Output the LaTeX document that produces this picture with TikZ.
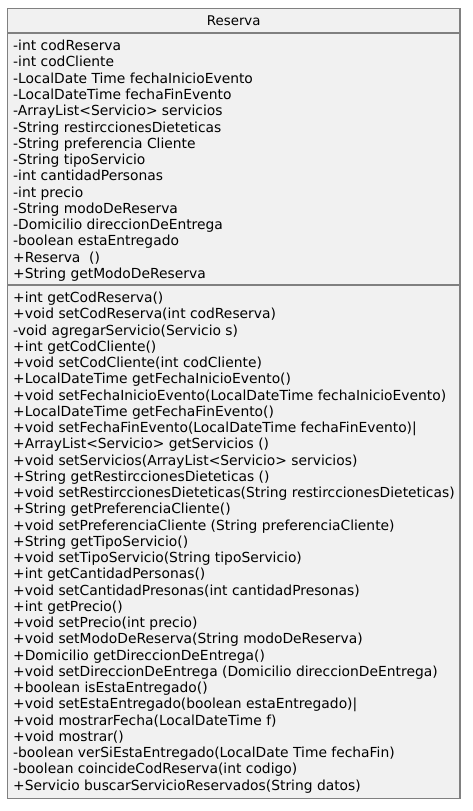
\documentclass[tikz,border=0pt]{standalone}
\usepackage{fontspec}
\setmainfont{DejaVu Sans}
\definecolor{boxfill}{HTML}{F1F1F1}
\definecolor{boxline}{HTML}{808080}
\begin{document}
\begin{tikzpicture}[x=1bp,y=-1bp,
  row/.style={anchor=base west, inner sep=0pt, font=\fontsize{13.9}{16}\selectfont},
  title/.style={anchor=base, inner sep=0pt, font=\fontsize{13.4}{16}\selectfont},
  box/.style={draw=boxline, fill=boxfill, line width=1.1bp},
  sep/.style={draw=boxline, line width=1.1bp}]
\useasboundingbox (0,0) rectangle (473,811);
\fill[white] (0,0) rectangle (473,811);
\draw[box] (7.5,8.5) rectangle (460,798.5);
\draw[sep] (7.5,33) -- (460,33);
\draw[sep] (7.5,285) -- (460,285);
\node[title] (cls) at (233.75,26) {Reserva};
\foreach \t [count=\i from 0] in {
  {-int codReserva},
  {-int codCliente},
  {-LocalDate Time fechaInicioEvento},
  {-LocalDateTime fechaFinEvento},
  {-ArrayList<Servicio> servicios},
  {-String restirccionesDieteticas},
  {-String preferencia Cliente},
  {-String tipoServicio},
  {-int cantidadPersonas},
  {-int precio},
  {-String modoDeReserva},
  {-Domicilio direccionDeEntrega},
  {-boolean estaEntregado},
  {+Reserva~~()},
  {+String getModoDeReserva}}
  \node[row] (a\i) at (13,{50.7+\i*16.27}) {\t};
\foreach \t [count=\i from 0] in {
  {+int getCodReserva()},
  {+void setCodReserva(int codReserva)},
  {-void agregarServicio(Servicio s)},
  {+int getCodCliente()},
  {+void setCodCliente(int codCliente)},
  {+LocalDateTime getFechaInicioEvento()},
  {+void setFechaInicioEvento(LocalDateTime fechaInicioEvento)},
  {+LocalDateTime getFechaFinEvento()},
  {+void setFechaFinEvento(LocalDateTime fechaFinEvento)|},
  {+ArrayList<Servicio> getServicios ()},
  {+void setServicios(ArrayList<Servicio> servicios)},
  {+String getRestirccionesDieteticas ()},
  {+void setRestirccionesDieteticas(String restirccionesDieteticas)},
  {+String getPreferenciaCliente()},
  {+void setPreferenciaCliente (String preferenciaCliente)},
  {+String getTipoServicio()},
  {+void setTipoServicio(String tipoServicio)},
  {+int getCantidadPersonas()},
  {+void setCantidadPresonas(int cantidadPresonas)},
  {+int getPrecio()},
  {+void setPrecio(int precio)},
  {+void setModoDeReserva(String modoDeReserva)},
  {+Domicilio getDireccionDeEntrega()},
  {+void setDireccionDeEntrega (Domicilio direccionDeEntrega)},
  {+boolean isEstaEntregado()},
  {+void setEstaEntregado(boolean estaEntregado)|},
  {+void mostrarFecha(LocalDateTime f)},
  {+void mostrar()},
  {-boolean verSiEstaEntregado(LocalDate Time fechaFin)},
  {-boolean coincideCodReserva(int codigo)},
  {+Servicio buscarServicioReservados(String datos)}}
  \node[row] (m\i) at (13,{302.7+\i*16.25}) {\t};
\end{tikzpicture}
\end{document}
